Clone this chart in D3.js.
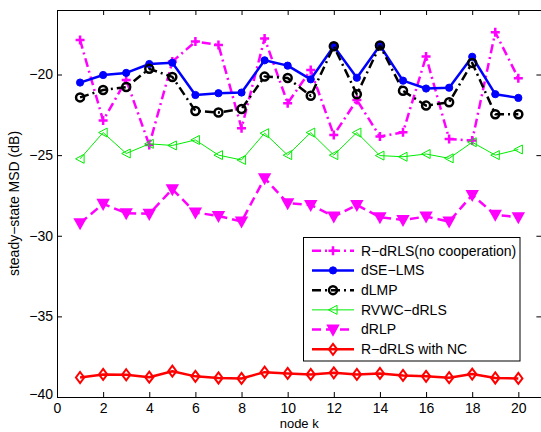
<!DOCTYPE html>
<html>
<head>
<meta charset="utf-8">
<script src="https://cdn.jsdelivr.net/npm/d3@7"></script>
<style>
  body { margin: 0; background: #fff; }
  svg { display: block; font-family: "Liberation Sans", Arial, sans-serif; }
</style>
</head>
<body>
<div id="chart"></div>
<script>
// node index and steady-state MSD (dB) per algorithm
const nodes = [1, 2, 3, 4, 5, 6, 7, 8, 9, 10, 11, 12, 13, 14, 15, 16, 17, 18, 19, 20];
const rdrlsNoCoop = [-17.86, -22.86, -20.34, -24.37, -19.2, -17.96, -18.17, -23.33, -17.76, -21.78,
  -19.72, -23.75, -21.58, -23.85, -23.58, -18.89, -24.0, -24.1, -17.38, -20.23];
const dseLms = [-20.5, -20.03, -19.9, -19.35, -19.27, -21.27, -21.16, -21.12, -19.12, -19.45,
  -20.3, -18.25, -20.2, -18.2, -20.38, -20.87, -20.82, -18.9, -21.22, -21.45];
const dlmp = [-21.42, -20.96, -20.78, -19.65, -20.15, -22.26, -22.36, -22.14, -20.13, -20.22,
  -21.32, -18.25, -21.23, -18.2, -21.01, -21.93, -21.72, -19.28, -22.46, -22.46];
const rvwcDrls = [-25.23, -23.6, -24.9, -24.3, -24.4, -24.06, -25.0, -25.3, -23.64, -25.0,
  -23.6, -25.0, -23.6, -25.03, -25.1, -24.93, -25.2, -24.2, -25.0, -24.65];
const drlp = [-29.22, -28.02, -28.6, -28.64, -27.11, -28.56, -28.77, -29.12, -26.43, -27.98,
  -28.09, -28.81, -28.09, -28.85, -29.02, -28.81, -29.12, -27.47, -28.7, -28.85];
const rdrlsNc = [-38.79, -38.6, -38.62, -38.77, -38.4, -38.72, -38.82, -38.85, -38.46, -38.54,
  -38.6, -38.5, -38.6, -38.54, -38.66, -38.72, -38.8, -38.58, -38.82, -38.85];

const xTicks = [0, 2, 4, 6, 8, 10, 12, 14, 16, 18, 20];
const yTicks = [-40, -35, -30, -25, -20];
const seriesNames = ["R\u2212dRLS(no cooperation)", "dSE\u2212LMS", "dLMP", "RVWC\u2212dRLS", "dRLP", "R\u2212dRLS with NC"];

const width = 541, height = 432;
const margin = { top: 10, right: 0, bottom: 35, left: 57 };

const x = d3.scaleLinear().domain([0, 21]).range([margin.left, 541.4]);
const y = d3.scaleLinear().domain([-40, -16]).range([height - margin.bottom, margin.top]);

const svg = d3.select("#chart").append("svg")
  .attr("width", width)
  .attr("height", height);

// marker shapes
const plusPath = (s) => `M${-s},0H${s}M0,${-s}V${s}`;
const triLeft = (s) => `M${-s},0L${s * 0.9},${-s}L${s * 0.9},${s}Z`;
const triDown = (s) => `M${-s},${-s * 0.8}L${s},${-s * 0.8}L0,${s}Z`;
const diamond = (s) => `M0,${-s}L${s * 0.75},0L0,${s}L${-s * 0.75},0Z`;
const circle = (r) => `M${-r},0A${r},${r} 0 1,0 ${r},0A${r},${r} 0 1,0 ${-r},0Z`;

const series = [
  { values: rdrlsNoCoop, color: "#ff00ff", width: 2.5, dash: "9,4,2,4", marker: plusPath(4.5), fill: "none", mstroke: 2.5 },
  { values: dseLms, color: "#0000ff", width: 2.5, dash: null, marker: circle(3.6), fill: "#0000ff", mstroke: 1 },
  { values: dlmp, color: "#000000", width: 2.5, dash: "9,4,2,4", marker: circle(4), fill: "none", mstroke: 2.5 },
  { values: rvwcDrls, color: "#00ee00", width: 1, dash: null, marker: triLeft(4.5), fill: "none", mstroke: 1 },
  { values: drlp, color: "#ff00ff", width: 2.5, dash: "9,5", marker: triDown(5), fill: "#ff00ff", mstroke: 2 },
  { values: rdrlsNc, color: "#ff0000", width: 2.5, dash: null, marker: diamond(5.5), fill: "none", mstroke: 2 }
];

// axes box with inward ticks on all four sides
const plot = svg.append("g");
const tickLen = 5;

const xAxisB = d3.axisBottom(x).tickValues(xTicks).tickSizeInner(-tickLen).tickSizeOuter(0).tickPadding(6);
const xAxisT = d3.axisTop(x).tickValues(xTicks).tickSizeInner(-tickLen).tickSizeOuter(0).tickFormat("");
const yAxisL = d3.axisLeft(y).tickValues(yTicks).tickSizeInner(-tickLen).tickSizeOuter(0).tickPadding(4)
  .tickFormat((d) => String(d).replace("-", "\u2212"));
const yAxisR = d3.axisRight(y).tickValues(yTicks).tickSizeInner(-tickLen).tickSizeOuter(0).tickFormat("");

const gxB = plot.append("g").attr("transform", `translate(0,${y(-40)})`).call(xAxisB);
const gxT = plot.append("g").attr("transform", `translate(0,${y(-16)})`).call(xAxisT);
const gyL = plot.append("g").attr("transform", `translate(${x(0)},0)`).call(yAxisL);
const gyR = plot.append("g").attr("transform", `translate(${x(21)},0)`).call(yAxisR);

[gxB, gxT, gyL, gyR].forEach((g) => {
  g.selectAll("path").attr("stroke", "#000").attr("stroke-width", 1);
  g.selectAll("line").attr("stroke", "#000").attr("stroke-width", 1);
  g.selectAll("text").attr("fill", "#000").style("font-size", "14px")
    .style("font-family", '"Liberation Sans", Arial, sans-serif');
});
gyL.selectAll("text").attr("dy", "0.32em");
gyL.selectAll(".tick").filter((d) => d === -40).select("text").attr("dy", "0.1em");

// lines and markers
const line = d3.line().x((d, i) => x(nodes[i])).y((d) => y(d));

series.forEach((s) => {
  const g = svg.append("g");
  g.append("path")
    .datum(s.values)
    .attr("d", line)
    .attr("fill", "none")
    .attr("stroke", s.color)
    .attr("stroke-width", s.width)
    .attr("stroke-dasharray", s.dash)
    .attr("stroke-linejoin", "round");
  g.selectAll("path.m")
    .data(s.values)
    .enter().append("path")
      .attr("class", "m")
      .attr("d", s.marker)
      .attr("transform", (d, i) => `translate(${x(nodes[i])},${y(d)})`)
      .attr("fill", s.fill)
      .attr("stroke", s.color)
      .attr("stroke-width", s.mstroke);
});

// axis titles
svg.append("text")
  .attr("x", (x(0) + x(21)) / 2)
  .attr("y", 428)
  .attr("text-anchor", "middle")
  .style("font-size", "13px")
  .text("node k");

svg.append("text")
  .attr("transform", `translate(19,${(y(-16) + y(-40)) / 2}) rotate(-90)`)
  .attr("text-anchor", "middle")
  .style("font-size", "14px")
  .text("steady\u2212state MSD (dB)");

// legend
const legend = svg.append("g");
legend.append("rect")
  .attr("x", 303.5).attr("y", 237.5)
  .attr("width", 216.5).attr("height", 123.5)
  .attr("fill", "#fff")
  .attr("stroke", "#000")
  .attr("stroke-width", 1);

const legendRow = d3.scaleLinear().domain([0, 5]).range([250.7, 349.3]);

series.forEach((s, i) => {
  const ly = legendRow(i);
  legend.append("line")
    .attr("x1", 312).attr("x2", 354)
    .attr("y1", ly).attr("y2", ly)
    .attr("stroke", s.color)
    .attr("stroke-width", s.width)
    .attr("stroke-dasharray", s.dash);
  legend.append("path")
    .attr("d", s.marker)
    .attr("transform", `translate(333,${ly})`)
    .attr("fill", s.fill)
    .attr("stroke", s.color)
    .attr("stroke-width", s.mstroke);
  legend.append("text")
    .attr("x", 361)
    .attr("y", ly)
    .attr("dy", "0.35em")
    .style("font-size", "14px")
    .text(seriesNames[i]);
});
</script>
</body>
</html>
